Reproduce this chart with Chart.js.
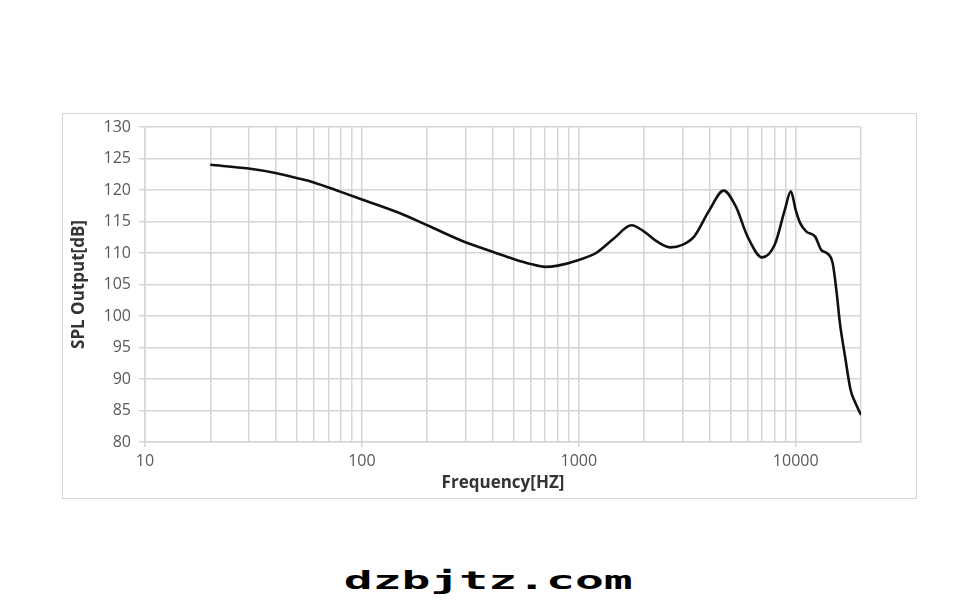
<!DOCTYPE html>
<html>
<head>
<meta charset="utf-8">
<script src="https://cdn.jsdelivr.net/npm/chart.js@4"></script>
<style>
  body { margin: 0; background: #fff; width: 976px; height: 613px; position: relative; overflow: hidden; }
  #box { position: absolute; left: 62px; top: 113px; width: 853px; height: 384px; border: 1px solid #d4d4d4; }
  #wm { position: absolute; left: 0; width: 976px; top: 569px; text-align: center;
        font-family: "DejaVu Sans Mono", monospace; font-weight: bold; font-size: 24px; line-height: 24px; color: #000; }
  #wm span { display: inline-block; transform: scaleX(2.0); }
</style>
</head>
<body>
<div id="box"><canvas id="spl" width="853" height="384"></canvas></div>
<div id="wm"><span>dzbjtz.com</span></div>
<script>
// frequency response
const freq = [20, 30, 40, 50, 60, 80, 100, 150, 200, 300, 400, 500, 600, 700, 800, 1000,
  1200, 1450, 1750, 2000, 2300, 2650, 3000, 3400, 4000, 4650, 5300, 6000, 7000, 8000,
  8900, 9500, 10000, 10500, 11200, 12300, 13100, 13900, 14800, 15400, 16000, 16900,
  17900, 18900, 20000];
const spl = [124.0, 123.4, 122.7, 121.9, 121.2, 119.7, 118.5, 116.3, 114.4, 111.7, 110.2,
  109.05, 108.25, 107.8, 108.0, 108.9, 110.0, 112.3, 114.4, 113.4, 111.8, 110.9, 111.3,
  112.6, 116.8, 119.9, 117.35, 112.6, 109.3, 111.3, 116.8, 119.8, 116.8, 114.7, 113.4,
  112.6, 110.5, 110.0, 108.4, 104.1, 98.8, 93.5, 88.3, 86.1, 84.3];

// axis ticks
const xMajor = [10, 100, 1000, 10000];
const xMinorSteps = [2, 3, 4, 5, 6, 7, 8, 9];
const xMax = 20000;
const yMin = 80, yMax = 130, yStep = 5;

const gridColor = '#d6d6d6';
const tickFont = { family: 'Open Sans', size: 16 };
const titleFont = { family: 'Open Sans', size: 17, weight: 'bold' };

function xGridTicks() {
  let t = [];
  xMajor.forEach(d => {
    t.push(d);
    xMinorSteps.forEach(m => { if (m * d <= xMax) t.push(m * d); });
  });
  return t.map(v => ({ value: v, major: xMajor.includes(v) }));
}

new Chart(document.getElementById('spl'), {
  type: 'line',
  data: {
    datasets: [{
      data: freq.map((f, i) => ({ x: f, y: spl[i] })),
      borderColor: '#111',
      borderWidth: 2.6,
      pointRadius: 0,
      fill: false,
      cubicInterpolationMode: 'monotone'
    }]
  },
  options: {
    responsive: false,
    animation: false,
    layout: { padding: { top: 13, right: 55, left: 0, bottom: 0 } },
    plugins: { legend: { display: false }, tooltip: { enabled: false } },
    scales: {
      x: {
        type: 'logarithmic',
        min: 10,
        max: xMax,
        afterBuildTicks: s => { s.ticks = xGridTicks(); },
        afterFit: s => { s.height = 56; s.paddingLeft = 0; s.paddingRight = 0; },
        grid: {
          color: gridColor, lineWidth: 1.5, tickLength: 5,
          tickColor: c => (c.tick && xMajor.includes(c.tick.value)) ? gridColor : 'rgba(0,0,0,0)'
        },
        border: { color: gridColor, width: 1.5 },
        ticks: {
          autoSkip: false, maxRotation: 0, padding: 5,
          color: '#595959', font: tickFont,
          callback: v => xMajor.includes(v) ? String(v) : ''
        },
        title: {
          display: true, text: 'Frequency[HZ]', color: '#333',
          font: titleFont,
          padding: { top: 0, bottom: 5 }
        }
      },
      y: {
        min: yMin,
        max: yMax,
        afterFit: s => { s.width = 82; s.paddingTop = 0; s.paddingBottom = 0; },
        grid: { color: gridColor, lineWidth: 1.5, tickLength: 6 },
        border: { color: gridColor, width: 1.5 },
        ticks: { stepSize: yStep, padding: 8, color: '#595959', font: tickFont },
        title: {
          display: true, text: 'SPL Output[dB]', color: '#333',
          font: titleFont,
          padding: { top: 6, bottom: 0 }
        }
      }
    }
  }
});
</script>
</body>
</html>
